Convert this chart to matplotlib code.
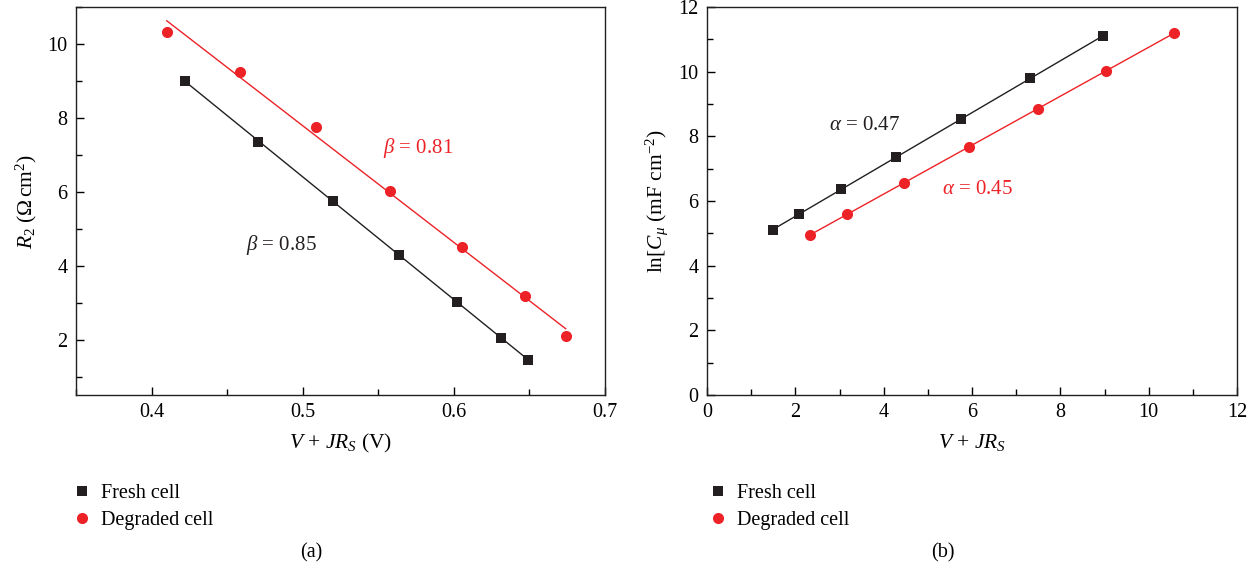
import matplotlib
matplotlib.use("Agg")
import matplotlib.pyplot as plt
import numpy as np
from matplotlib.lines import Line2D
from matplotlib.ticker import MultipleLocator

# (a) recombination resistance vs corrected voltage
r2_fresh_x = [0.422, 0.4706, 0.520, 0.5638, 0.602, 0.631, 0.6488]
r2_fresh_y = [9.00, 7.35, 5.75, 4.29, 3.03, 2.05, 1.46]
r2_degr_x = [0.410, 0.4588, 0.5089, 0.5575, 0.6055, 0.647, 0.674]
r2_degr_y = [10.31, 9.24, 7.75, 6.02, 4.50, 3.17, 2.09]

# (b) chemical capacitance vs corrected voltage
cmu_fresh_x = [1.49, 2.08, 3.04, 4.28, 5.74, 7.32, 8.97]
cmu_fresh_y = [5.11, 5.59, 6.37, 7.35, 8.52, 9.79, 11.11]
cmu_degr_x = [2.32, 3.18, 4.45, 5.94, 7.50, 9.03, 10.58]
cmu_degr_y = [4.95, 5.59, 6.56, 7.67, 8.85, 10.02, 11.20]

series_labels = ["Fresh cell", "Degraded cell"]
beta_labels = ["0.85", "0.81"]
alpha_labels = ["0.47", "0.45"]

BLACK = "#231f20"
RED = "#ec2227"

TICK_FS = 14.5
LABEL_FS = 15.5
NOTE_FS = 15
LEGEND_FS = 14.5
SQ_MS = 7.5
CIRC_MS = 8

plt.rcParams["font.family"] = ["Liberation Serif", "DejaVu Serif"]
plt.rcParams["mathtext.fontset"] = "custom"
plt.rcParams["mathtext.rm"] = "Liberation Serif"
plt.rcParams["mathtext.it"] = "Liberation Serif:italic"


def draw_series(ax, x, y, color, marker, ms):
    x = np.asarray(x)
    y = np.asarray(y)
    k, b = np.polyfit(x, y, 1)
    xs = np.array([x.min(), x.max()])
    ax.plot(xs, k * xs + b, color=color, lw=1.0, zorder=2)
    ax.plot(x, y, linestyle="none", marker=marker, ms=ms, color=color,
            markeredgewidth=0, zorder=3)


def style_axes(ax):
    ax.tick_params(which="both", direction="in", top=False, right=False,
                   labelsize=TICK_FS, pad=6)
    ax.tick_params(which="major", length=6, width=1.0)
    ax.tick_params(which="minor", length=4, width=1.0)
    for sp in ax.spines.values():
        sp.set_linewidth(1.0)
        sp.set_color(BLACK)


def add_legend(x0, y0):
    handles = [
        Line2D([], [], linestyle="none", marker="s", ms=SQ_MS, color=BLACK, markeredgewidth=0),
        Line2D([], [], linestyle="none", marker="o", ms=CIRC_MS, color=RED, markeredgewidth=0),
    ]
    fig.legend(handles, series_labels, loc="upper left", bbox_to_anchor=(x0, y0),
               frameon=False, fontsize=LEGEND_FS, handlelength=0.7, handletextpad=0.6,
               labelspacing=0.4, borderpad=0, borderaxespad=0)


fig = plt.figure(figsize=(12.57, 5.75), dpi=100)
ax1 = fig.add_axes([0.0605, 0.313, 0.4208, 0.675])
ax2 = fig.add_axes([0.5625, 0.313, 0.4216, 0.675])

# panel (a)
draw_series(ax1, r2_fresh_x, r2_fresh_y, BLACK, "s", SQ_MS)
draw_series(ax1, r2_degr_x, r2_degr_y, RED, "o", CIRC_MS)
ax1.set_xlim(0.35, 0.7)
ax1.set_ylim(0.5, 11)
ax1.xaxis.set_minor_locator(MultipleLocator(0.05))
ax1.yaxis.set_minor_locator(MultipleLocator(1))
ax1.set_yticks([2, 4, 6, 8, 10])
ax1.set_xticks([0.4, 0.5, 0.6, 0.7])
ax1.set_xticklabels(["0.4", "0.5", "0.6", "0.7"])
style_axes(ax1)
ax1.set_xlabel(r"$V$ + $JR_S$ (V)", fontsize=LABEL_FS, labelpad=7)
ax1.set_ylabel(r"$R_2$ ($\Omega\,$cm$^2$)", fontsize=LABEL_FS, labelpad=6)
ax1.text(0.4627, 4.57, r"$\beta$ = " + beta_labels[0], color=BLACK,
         fontsize=NOTE_FS, va="center", ha="left")
ax1.text(0.5528, 7.18, r"$\beta$ = " + beta_labels[1], color=RED,
         fontsize=NOTE_FS, va="center", ha="left")

# panel (b)
draw_series(ax2, cmu_fresh_x, cmu_fresh_y, BLACK, "s", SQ_MS)
draw_series(ax2, cmu_degr_x, cmu_degr_y, RED, "o", CIRC_MS)
ax2.set_xlim(0, 12)
ax2.set_ylim(0, 12)
ax2.xaxis.set_major_locator(MultipleLocator(2))
ax2.xaxis.set_minor_locator(MultipleLocator(1))
ax2.yaxis.set_major_locator(MultipleLocator(2))
ax2.yaxis.set_minor_locator(MultipleLocator(1))
style_axes(ax2)
ax2.set_xlabel(r"$V$ + $JR_S$", fontsize=LABEL_FS, labelpad=7)
ax2.set_ylabel(r"ln[$C_\mu$ (mF cm$^{-2}$)", fontsize=LABEL_FS, labelpad=6)
ax2.text(2.77, 8.34, r"$\alpha$ = " + alpha_labels[0], color=BLACK,
         fontsize=NOTE_FS, va="center", ha="left")
ax2.text(5.31, 6.34, r"$\alpha$ = " + alpha_labels[1], color=RED,
         fontsize=NOTE_FS, va="center", ha="left")

add_legend(0.0595, 0.158)
add_legend(0.5655, 0.158)

fig.text(0.248, 0.038, "(a)", ha="center", va="center", fontsize=LEGEND_FS)
fig.text(0.750, 0.038, "(b)", ha="center", va="center", fontsize=LEGEND_FS)

fig.savefig("out.png", dpi=100)
